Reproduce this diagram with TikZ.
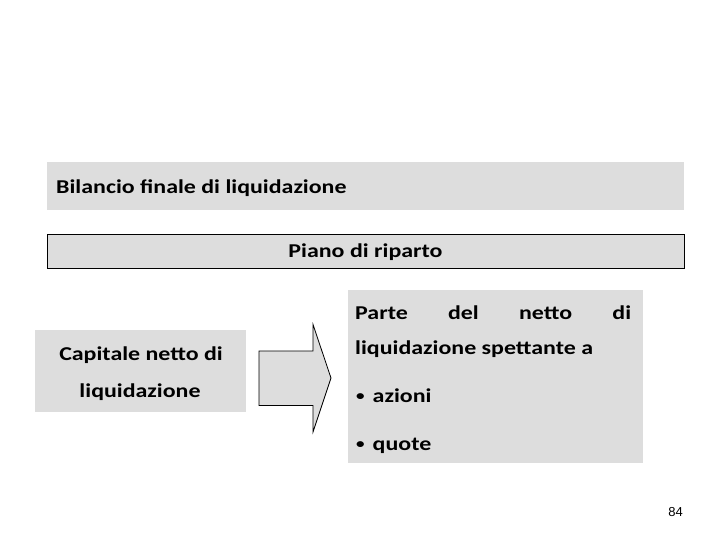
\documentclass[tikz,border=0pt]{standalone}
\usepackage{fontspec}
\setmainfont[FakeStretch=1.22]{Carlito}
\newfontfamily\numfont{Liberation Sans}
\definecolor{boxgray}{HTML}{DDDDDD}
\newcommand{\smbul}{\raisebox{1.2pt}{\fontsize{14}{14}\selectfont •}\hspace{8pt}}
\begin{document}
\begin{tikzpicture}[x=1pt,y=-1pt,
  graybox/.style={fill=boxgray,draw=none,inner sep=0pt,anchor=north west},
  bigtxt/.style={font=\fontsize{19.6}{24}\selectfont\bfseries,inner sep=0pt},
  midtxt/.style={font=\fontsize{19.6}{24}\selectfont\bfseries,inner sep=0pt},
  arrowshape/.style={fill=boxgray,draw=black,line width=0.8pt,line join=miter}]
\useasboundingbox (0,0) rectangle (720,540);
% boxes
\node[graybox,minimum width=637pt,minimum height=48pt] (b1) at (47,162) {};
\node[graybox,draw=black,line width=0.8pt,minimum width=637pt,minimum height=34pt] (b2) at (47,234) {};
\node[graybox,minimum width=211pt,minimum height=82pt] (b3) at (35,330) {};
\node[graybox,minimum width=295pt,minimum height=173pt] (b4) at (348,290) {};
% texts
\node[bigtxt,anchor=base west] (t1) at (56,194) {Bilancio finale di liquidazione};
\node[bigtxt,anchor=base] (t2) at (365.5,257) {Piano di riparto};
\node[midtxt,anchor=base] (t3a) at (141,360) {Capitale netto di};
\node[midtxt,anchor=base] (t3b) at (140,397) {liquidazione};
\node[midtxt,anchor=base west] (t4a) at (355,319) {\makebox[276pt][s]{Parte del netto di}};
\node[midtxt,anchor=base west] (t4b) at (355,354) {liquidazione spettante a};
\node[midtxt,anchor=base west] (t4c) at (356,402) {\smbul azioni};
\node[midtxt,anchor=base west] (t4d) at (356,450) {\smbul quote};
% block arrow
\draw[arrowshape] (259,351) -- (313,351) -- (313,324.5) -- (331,378) -- (313,432) -- (313,405.5) -- (259,405.5) -- cycle;
% page number
\node[font=\numfont\fontsize{13}{15}\selectfont,inner sep=0pt,anchor=base east] (pg) at (683,516) {84};
\end{tikzpicture}
\end{document}
